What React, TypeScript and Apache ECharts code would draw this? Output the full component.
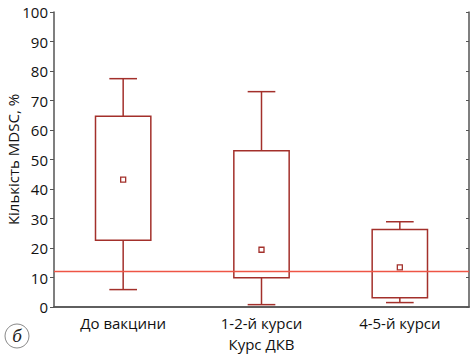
import React, { useEffect, useRef } from "react";
import * as echarts from "echarts";

const categories = ["До вакцини", "1-2-й курси", "4-5-й курси"];
const whiskerMin = [5.9, 0.8, 1.5];
const q1 = [22.6, 9.9, 3.1];
const median = [43.2, 19.4, 13.4];
const q3 = [64.7, 53.0, 26.3];
const whiskerMax = [77.4, 73.0, 28.9];
const referenceLine = 12;

const BOX = "#a3302b";
const AXIS = "#555555";
const FONT = "Open Sans";

export default function App() {
  const ref = useRef<HTMLDivElement>(null);
  useEffect(() => {
    if (!ref.current) return;
    const chart = echarts.init(ref.current, null, { renderer: "svg" });
    const data = categories.map((_, i) => [i, whiskerMin[i], q1[i], median[i], q3[i], whiskerMax[i]]);
    chart.setOption({
      animation: false,
      grid: { left: 54, right: 4, top: 12, bottom: 47, outerBoundsMode: "none", containLabel: false },
      xAxis: [
        {
          type: "category",
          data: categories,
          axisLine: { lineStyle: { color: AXIS, width: 1.5 } },
          axisTick: { alignWithLabel: true, length: 3, inside: true, lineStyle: { color: AXIS } },
          axisLabel: { color: "#111", fontSize: 15, fontFamily: FONT, margin: 8 },
          name: "Курс ДКВ",
          nameLocation: "middle",
          nameGap: 29,
          nameMoveOverlap: false,
          nameTextStyle: { color: "#111", fontSize: 15, fontFamily: FONT },
        },
        {
          type: "category",
          data: categories,
          position: "top",
          axisLine: { show: true, lineStyle: { color: AXIS, width: 1.5 } },
          axisTick: { show: false },
          axisLabel: { show: false },
        },
      ],
      yAxis: [
        {
          type: "value",
          min: 0,
          max: 100,
          interval: 10,
          axisLine: { show: true, lineStyle: { color: AXIS, width: 1.5 } },
          axisTick: { show: true, length: 4, lineStyle: { color: AXIS } },
          axisLabel: { color: "#111", fontSize: 15, fontFamily: FONT, margin: 6 },
          splitLine: { show: false },
          name: "Кількість MDSC, %",
          nameLocation: "middle",
          nameGap: 34,
          nameMoveOverlap: false,
          nameTextStyle: { color: "#111", fontSize: 15, fontFamily: FONT },
        },
        {
          type: "value",
          min: 0,
          max: 100,
          interval: 10,
          position: "right",
          axisLine: { show: true, lineStyle: { color: AXIS, width: 1.5 } },
          axisTick: { show: true, inside: true, length: 3, lineStyle: { color: AXIS } },
          axisLabel: { show: false },
          splitLine: { show: false },
        },
      ],
      series: [
        {
          type: "custom",
          data,
          encode: { x: 0, y: [1, 2, 3, 4, 5] },
          renderItem: (params: any, api: any) => {
            const idx = api.value(0);
            const lo = api.coord([idx, api.value(1)]);
            const b1 = api.coord([idx, api.value(2)]);
            const md = api.coord([idx, api.value(3)]);
            const b3 = api.coord([idx, api.value(4)]);
            const hi = api.coord([idx, api.value(5)]);
            const bw = api.size([1, 0])[0];
            const boxW = bw * 0.4;
            const capW = bw * 0.2;
            const x = lo[0];
            const ls = { stroke: BOX, lineWidth: 1.5, fill: "none" };
            return {
              type: "group",
              children: [
                { type: "line", shape: { x1: x, y1: hi[1], x2: x, y2: b3[1] }, style: ls },
                { type: "line", shape: { x1: x, y1: b1[1], x2: x, y2: lo[1] }, style: ls },
                { type: "line", shape: { x1: x - capW / 2, y1: hi[1], x2: x + capW / 2, y2: hi[1] }, style: ls },
                { type: "line", shape: { x1: x - capW / 2, y1: lo[1], x2: x + capW / 2, y2: lo[1] }, style: ls },
                {
                  type: "rect",
                  shape: { x: x - boxW / 2, y: b3[1], width: boxW, height: b1[1] - b3[1] },
                  style: { stroke: BOX, lineWidth: 1.5, fill: "none" },
                },
                {
                  type: "rect",
                  shape: { x: x - 2.5, y: md[1] - 2.5, width: 5, height: 5 },
                  style: { stroke: BOX, lineWidth: 1.3, fill: "#fff" },
                },
              ],
            };
          },
          markLine: {
            silent: true,
            symbol: "none",
            label: { show: false },
            lineStyle: { color: "#ee5545", width: 1.4, type: "solid", opacity: 1 },
            emphasis: { disabled: true },
            data: [{ yAxis: referenceLine }],
          },
          z: 3,
        },
      ],
      graphic: [
        {
          type: "circle",
          shape: { cx: 17, cy: 336, r: 12 },
          style: { fill: "#fff", stroke: "#888", lineWidth: 1 },
        },
        {
          type: "text",
          x: 17,
          y: 336,
          style: {
            text: "б",
            fontSize: 16,
            fontStyle: "italic",
            fontFamily: "DejaVu Serif",
            fill: "#222",
            align: "center",
            verticalAlign: "middle",
          },
        },
      ],
    });
    return () => chart.dispose();
  }, []);
  return <div ref={ref} style={{ width: 473, height: 354, position: "absolute", left: 0, top: 0 }} />;
}
